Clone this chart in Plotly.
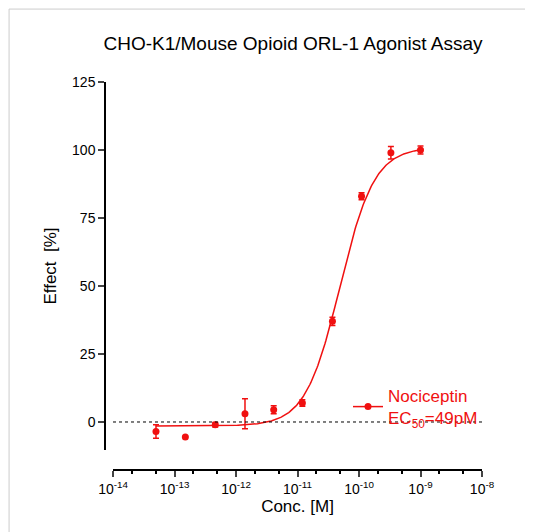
import numpy as np
import plotly.graph_objects as go

conc = [5e-14, 1.5e-13, 4.6e-13, 1.4e-12, 4.1e-12, 1.2e-11, 3.7e-11, 1.1e-10, 3.3e-10, 1e-9]
effect = [-3.5, -5.5, -1.0, 3.0, 4.5, 7.0, 37.0, 83.0, 99.0, 100.0]
err = [2.5, 0.0, 0.8, 5.5, 1.5, 1.2, 1.5, 1.3, 2.3, 1.5]
fit_bottom, fit_top, fit_ec50, fit_hill = -1.5, 101.0, 4.9e-11, 1.55
tick_exps = [-14, -13, -12, -11, -10, -9, -8]

red = "#f01010"
font = "Liberation Sans, Arial, sans-serif"
xc = np.logspace(np.log10(5e-14), np.log10(1e-9), 300)
yc = fit_bottom + (fit_top - fit_bottom) / (1 + (fit_ec50 / xc) ** fit_hill)

fig = go.Figure()
fig.add_trace(go.Scatter(x=xc, y=yc, mode="lines", line=dict(color=red, width=1.5), showlegend=False, hoverinfo="skip"))
fig.add_trace(go.Scatter(x=conc, y=effect, mode="markers",
                         marker=dict(color=red, size=7),
                         error_y=dict(array=err, color=red, thickness=1.5, width=3),
                         showlegend=False))
fig.add_trace(go.Scatter(x=[None], y=[None], mode="lines+markers", line=dict(color=red, width=1.5),
                         marker=dict(color=red, size=7), name="Nociceptin<br>EC<sub>50</sub>=49pM"))

fig.add_shape(type="line", xref="paper", yref="y", x0=105/533, x1=474/533, y0=0, y1=0,
              line=dict(color="black", width=1, dash="dot"))
fig.add_shape(type="rect", xref="paper", yref="paper", x0=0.002, x1=0.998, y0=0.002, y1=0.998,
              line=dict(color="#cccccc", width=1), layer="below")

fig.update_layout(
    width=533, height=532, margin=dict(l=0, r=0, t=0, b=0, autoexpand=False),
    paper_bgcolor="white", plot_bgcolor="white",
    font=dict(family=font, size=14, color="black"),
    title=dict(text="CHO-K1/Mouse Opioid ORL-1 Agonist Assay", x=285/533, xanchor="center",
               y=1-35/532, yanchor="middle", font=dict(size=19)),
    xaxis=dict(type="log", range=[-14, -8], domain=[105/533, 474/533], anchor="free",
               position=1-462/532, showline=True, linecolor="black", linewidth=1.5,
               ticks="outside", ticklen=6, tickwidth=1.5, showgrid=False, zeroline=False,
               tickvals=[10.0**e for e in tick_exps],
               ticktext=[f"10<sup>{e}</sup>" for e in tick_exps],
               minor=dict(ticks="outside", ticklen=3, tickcolor="black", showgrid=False),
               title=dict(text="Conc. [M]", standoff=4)),
    yaxis=dict(range=[-10.3, 125], domain=[1-442/532, 1-74/532], anchor="free", position=97/533,
               showline=True, linecolor="black", linewidth=1.5, ticks="outside", ticklen=6,
               tickwidth=1.5, showgrid=False, zeroline=False, tickvals=[0, 25, 50, 75, 100, 125],
               title=dict(text="Effect  [%]", standoff=10)),
    legend=dict(x=340/533, y=1-370/532, xanchor="left", yanchor="top", bgcolor="rgba(0,0,0,0)",
                font=dict(color=red, size=17)),
)
fig.write_html("out.html")
